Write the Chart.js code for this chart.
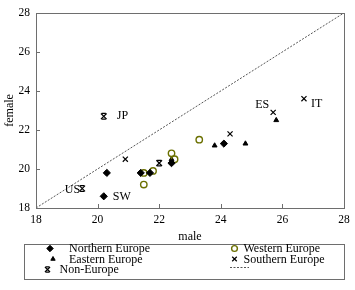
<!DOCTYPE html>
<html><head><meta charset="utf-8">
<script src="https://cdn.jsdelivr.net/npm/chart.js@4.4.0/dist/chart.umd.min.js"></script>
<style>html,body{margin:0;padding:0;background:#fff}#wrap{width:355px;height:290px}</style>
</head><body><div id="wrap"><canvas id="c" width="355" height="290"></canvas></div>
<script>
// ---- data ----
const northernMale   = [20.3, 20.2, 21.4, 21.7, 22.4, 24.1];
const northernFemale = [19.8, 18.6, 19.8, 19.8, 20.3, 21.3];
const westernMale    = [21.5, 21.5, 21.8, 22.4, 22.5, 23.3];
const westernFemale  = [19.8, 19.2, 19.9, 20.8, 20.5, 21.5];
const easternMale    = [22.4, 23.8, 24.8, 25.8];
const easternFemale  = [20.5, 21.2, 21.3, 22.5];
const southernMale   = [20.9, 24.3, 25.7, 26.7];
const southernFemale = [20.5, 21.8, 22.9, 23.6];
const nonEuropeMale   = [20.2, 19.5, 22.0];
const nonEuropeFemale = [22.7, 19.0, 20.3];
const seriesNames = ['Northern Europe', 'Western Europe', 'Eastern Europe', 'Southern Europe', 'Non-Europe', ''];
const axisTicks = [18, 20, 22, 24, 26, 28];
const diagonal = [18, 28];
// country labels: series index, point index, text
const countryLabels = [
  {series: 4, index: 0, text: 'JP'},
  {series: 4, index: 1, text: 'US'},
  {series: 0, index: 1, text: 'SW'},
  {series: 3, index: 2, text: 'ES'},
  {series: 3, index: 3, text: 'IT'}
];

const FONT = '"Liberation Serif", "Times New Roman", serif';
const pts = (xs, ys) => xs.map((x, i) => ({x, y: ys[i]}));
const NON_EURO = 4;

const labelOffsets = {
  JP: {dx: 13, dy: 0, align: 'left'},
  US: {dx: -2, dy: 1, align: 'right'},
  SW: {dx: 9, dy: 0.5, align: 'left'},
  ES: {dx: -4, dy: -8, align: 'right'},
  IT: {dx: 7, dy: 5.5, align: 'left'}
};

function drawBars(ctx, x, y, r) {
  const h = r * Math.SQRT1_2;
  ctx.beginPath();
  ctx.moveTo(x - h * 0.75, y - h); ctx.lineTo(x + h * 0.75, y - h);
  ctx.moveTo(x - h * 0.75, y + h); ctx.lineTo(x + h * 0.75, y + h);
  ctx.stroke();
}

const framePlugin = {
  id: 'frame',
  afterDatasetsDraw(chart) {
    const ctx = chart.ctx;
    const ds = chart.data.datasets[NON_EURO];
    ctx.save();
    ctx.strokeStyle = ds.borderColor; ctx.lineWidth = ds.borderWidth;
    chart.getDatasetMeta(NON_EURO).data.forEach(el => drawBars(ctx, el.x, el.y, ds.pointRadius));
    ctx.restore();
  },
  afterDraw(chart) {
    const {ctx, chartArea: a, scales} = chart;
    ctx.save();
    ctx.strokeStyle = '#6e6e6e'; ctx.lineWidth = 1;
    ctx.strokeRect(Math.round(a.left) + 0.5, Math.round(a.top) + 0.5, Math.round(a.right - a.left), Math.round(a.bottom - a.top));
    ctx.beginPath();
    axisTicks.forEach(v => {
      const px = Math.round(scales.x.getPixelForValue(v)) + 0.5;
      ctx.moveTo(px, a.bottom); ctx.lineTo(px, a.bottom - 4);
      const py = Math.round(scales.y.getPixelForValue(v)) + 0.5;
      ctx.moveTo(a.left, py); ctx.lineTo(a.left + 4, py);
    });
    ctx.stroke();
    // country labels
    ctx.fillStyle = '#000';
    ctx.font = '12px ' + FONT;
    ctx.textBaseline = 'middle';
    countryLabels.forEach(l => {
      const el = chart.getDatasetMeta(l.series).data[l.index];
      const o = labelOffsets[l.text];
      ctx.textAlign = o.align;
      ctx.fillText(l.text, el.x + o.dx, el.y + o.dy);
    });
    // legend box
    ctx.strokeStyle = '#6e6e6e';
    ctx.strokeRect(24.5, 244.5, 320, 35);
    const items = [
      {mx: 50, tx: 69, y: 248.5},
      {mx: 234.5, tx: 243.5, y: 248.5},
      {mx: 53, tx: 69, y: 259},
      {mx: 234.5, tx: 243.5, y: 259},
      {mx: 47.5, tx: 59.5, y: 269.5},
      {mx: 239, tx: 250, y: 267.5}
    ];
    ctx.textAlign = 'left';
    ctx.font = '12px ' + FONT;
    chart.data.datasets.forEach((ds, i) => {
      const it = items[i];
      if (ds.type === 'line') {
        ctx.save();
        ctx.strokeStyle = ds.borderColor; ctx.lineWidth = 1; ctx.setLineDash(ds.borderDash);
        ctx.beginPath(); ctx.moveTo(230, it.y); ctx.lineTo(249, it.y); ctx.stroke();
        ctx.restore();
      } else {
        ctx.save();
        ctx.fillStyle = ds.backgroundColor; ctx.strokeStyle = ds.borderColor; ctx.lineWidth = ds.borderWidth;
        Chart.helpers.drawPoint(ctx, {pointStyle: ds.pointStyle, radius: ds.pointRadius * 0.9, borderWidth: ds.borderWidth, rotation: 0}, it.mx, it.y);
        if (i === NON_EURO) drawBars(ctx, it.mx, it.y, ds.pointRadius * 0.9);
        ctx.restore();
      }
      ctx.fillStyle = '#000';
      ctx.fillText(ds.label, it.tx, it.y + 0.5);
    });
    ctx.restore();
  }
};

new Chart(document.getElementById('c'), {
  type: 'scatter',
  data: {
    datasets: [
      {label: seriesNames[0], data: pts(northernMale, northernFemale), pointStyle: 'rectRot', pointRadius: 3.6, backgroundColor: '#000', borderColor: '#000', borderWidth: 1},
      {label: seriesNames[1], data: pts(westernMale, westernFemale), pointStyle: 'circle', pointRadius: 3.2, backgroundColor: 'rgba(0,0,0,0)', borderColor: '#6b7000', borderWidth: 1.4},
      {label: seriesNames[2], data: pts(easternMale, easternFemale), pointStyle: 'triangle', pointRadius: 2.8, backgroundColor: '#000', borderColor: '#000', borderWidth: 1},
      {label: seriesNames[3], data: pts(southernMale, southernFemale), pointStyle: 'crossRot', pointRadius: 3.6, backgroundColor: '#000', borderColor: '#000', borderWidth: 1.2},
      {label: seriesNames[4], data: pts(nonEuropeMale, nonEuropeFemale), pointStyle: 'crossRot', pointRadius: 4, backgroundColor: '#000', borderColor: '#000', borderWidth: 1.2},
      {label: seriesNames[5], type: 'line', data: pts(diagonal, diagonal), borderColor: '#555', borderWidth: 1, borderDash: [2, 1.5], pointRadius: 0, fill: false}
    ]
  },
  options: {
    responsive: false,
    animation: false,
    devicePixelRatio: 1,
    layout: {padding: {left: 0, top: 7, right: 11, bottom: 46}},
    plugins: {legend: {display: false}, tooltip: {enabled: false}},
    scales: {
      x: {
        type: 'linear', min: 18, max: 28,
        afterBuildTicks: s => { s.ticks = axisTicks.map(v => ({value: v})); },
        afterFit: s => { s.height = 36; },
        grid: {display: false, drawTicks: false},
        border: {display: false},
        ticks: {font: {family: FONT, size: 11.5}, color: '#000', padding: 5, maxRotation: 0},
        title: {display: true, text: 'male', font: {family: FONT, size: 12}, color: '#000', padding: {top: 0, bottom: 0}}
      },
      y: {
        type: 'linear', min: 18, max: 28,
        afterBuildTicks: s => { s.ticks = axisTicks.map(v => ({value: v})); },
        afterFit: s => { s.width = 36; },
        grid: {display: false, drawTicks: false},
        border: {display: false},
        ticks: {font: {family: FONT, size: 11.5}, color: '#000', padding: 6},
        title: {display: true, text: 'female', font: {family: FONT, size: 12}, color: '#000', padding: {top: 3, bottom: 0}}
      }
    }
  },
  plugins: [framePlugin]
});
</script></body></html>
